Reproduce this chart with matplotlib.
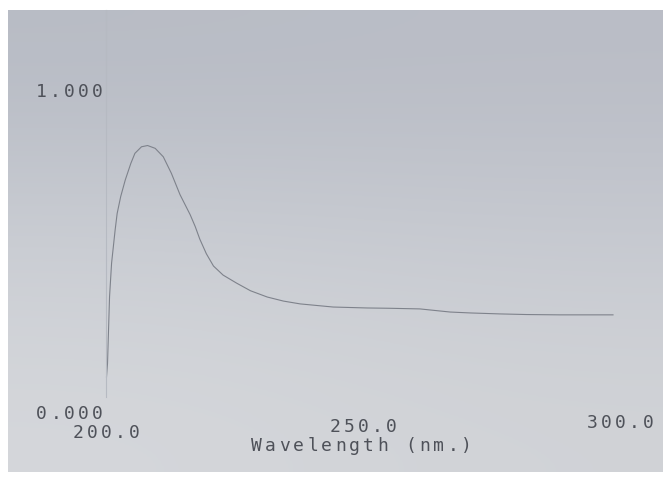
import numpy as np
import matplotlib
matplotlib.use("Agg")
import matplotlib.pyplot as plt

# UV absorption spectrum
wavelength = [200.1, 200.3, 200.7, 201.1, 201.8, 202.2, 202.9, 203.8, 204.9,
              205.7, 207.0, 208.2, 209.7, 211.3, 212.9, 213.8, 214.6, 215.6,
              216.6, 217.6, 218.5, 219.8, 221.2, 223.1, 225.8, 228.5, 231.8,
              235.0, 238.3, 244.8, 251.5, 256.0, 261.9, 267.9, 272.0, 277.7,
              283.0, 289.5, 295.0, 300.0]
absorbance = [0.090, 0.133, 0.346, 0.453, 0.559, 0.612, 0.666, 0.719, 0.772,
              0.804, 0.825, 0.829, 0.820, 0.793, 0.740, 0.704, 0.672, 0.640,
              0.608, 0.570, 0.530, 0.483, 0.444, 0.415, 0.389, 0.365, 0.345,
              0.332, 0.323, 0.313, 0.310, 0.309, 0.307, 0.297, 0.294, 0.291,
              0.289, 0.288, 0.288, 0.288]

x_range = (200.0, 300.0)
y_range = (0.0, 1.0)
x_tick_labels = ["200.0", "250.0", "300.0"]
y_tick_labels = ["0.000", "1.000"]
x_title = "Wavelength (nm.)"

W, H = 663, 479
INK = "#4e5159"
FONT = "DejaVu Sans Mono"

fig = plt.figure(figsize=(W / 100, H / 100), dpi=100, facecolor="white")

# paper background in pixel units
bg = fig.add_axes([0, 0, 1, 1])
bg.axis("off")
shade = np.array([
    [[184, 188, 197], [186, 189, 198]],
    [[203, 206, 212], [199, 202, 209]],
    [[213, 215, 219], [209, 211, 215]],
], dtype=float) / 255
bg.imshow(shade, extent=[8, W, 472, 10], interpolation="bicubic", aspect="auto", zorder=0)
bg.set_xlim(0, W)
bg.set_ylim(H, 0)


def spaced(x0, y, s, pitch=14.0):
    # printer text: fixed character pitch wider than the font's own advance
    for i, ch in enumerate(s):
        bg.text(x0 + i * pitch, y, ch, ha="center", va="center",
                family=FONT, fontsize=13, color=INK, zorder=3)


# plot area: 200 nm at x=106 px, 300 nm at x=613 px; 0 at y=405 px, 1 at y=92 px
ax = fig.add_axes([106 / W, (H - 405) / H, (613 - 106) / W, (405 - 92) / H])
ax.set_xlim(*x_range)
ax.set_ylim(*y_range)
ax.patch.set_alpha(0)
for side in ["top", "right", "bottom"]:
    ax.spines[side].set_visible(False)
ax.spines["left"].set_color("#b6bac2")
ax.spines["left"].set_linewidth(0.8)
ax.spines["left"].set_bounds(0.026, 1.262)
ax.set_xticks([])
ax.set_yticks([])

ax.plot(wavelength, absorbance, color="#7e828b", lw=0.8, clip_on=False,
        zorder=2, solid_joinstyle="round")

# axis labels as printed
spaced(41.7, 414, y_tick_labels[0])
spaced(41.0, 92, y_tick_labels[1])
spaced(78.3, 433, x_tick_labels[0])
spaced(335.0, 427, x_tick_labels[1])
spaced(592.3, 423, x_tick_labels[2])
spaced(256.7, 446, x_title)

fig.savefig("out.png", dpi=100, facecolor="white")
